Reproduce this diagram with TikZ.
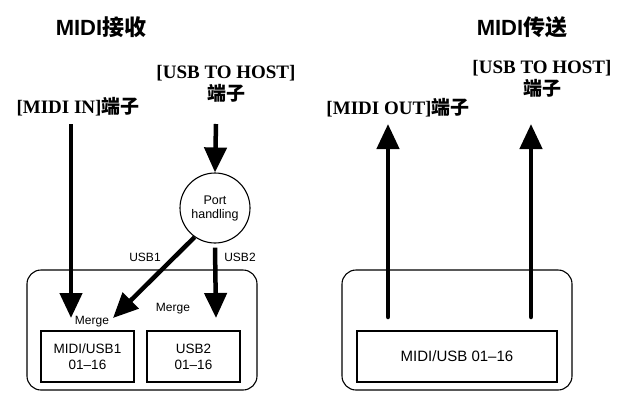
\documentclass[tikz,border=0pt]{standalone}
\usepackage{fontspec}
\setmainfont{Liberation Serif}
\setsansfont{Liberation Sans}
\newfontfamily\cjk{Noto Sans CJK SC}
\usetikzlibrary{arrows.meta}
\begin{document}
\begin{tikzpicture}[x=1pt,y=-1pt,
  outerbox/.style={draw, rounded corners=14pt, line width=1.1pt, minimum width=230pt, minimum height=120pt, inner sep=0pt},
  innerbox/.style={draw, line width=1.1pt, minimum height=51pt, inner sep=0pt, align=center, font=\sffamily\fontsize{13.5}{16}\selectfont},
  bigarrow/.style={line width=4.5pt, -{Triangle[length=25pt,width=22pt]}},
  title/.style={font=\sffamily\bfseries\fontsize{22}{24}\selectfont},
  port/.style={font=\bfseries\fontsize{19}{22}\selectfont, align=center, inner sep=0pt},
  small/.style={font=\sffamily\fontsize{12}{14}\selectfont, inner sep=0pt}]
\useasboundingbox (0,0) rectangle (621,394);
\fill[white] (0,0) rectangle (621,394);
% titles
\node[title] (t1) at (101,27) {MIDI{\cjk 接收}};
\node[title] (t2) at (522,27) {MIDI{\cjk 传送}};
% left side
\node[port] (usbh) at (226,84) {[USB TO HOST]\\{\cjk 端子}};
\node[port] (midiin) at (78,107) {[MIDI IN]{\cjk 端子}};
\node[outerbox] (lbox) at (142,330) {};
\node[innerbox, minimum width=93pt] (b1) at (87.5,356.5) {MIDI/USB1\\01--16};
\node[innerbox, minimum width=93pt] (b2) at (193.5,356.5) {USB2\\01--16};
\node[draw, circle, line width=1.1pt, minimum size=70pt, inner sep=0pt, align=center, font=\sffamily\fontsize{12.5}{14}\selectfont] (ph) at (215,208) {Port\\handling};
\coordinate (mis) at (71,124);
\coordinate (mie) at (71,318);
\coordinate (uhs) at (216,124);
\coordinate (u1e) at (113,318);
\coordinate (u2e) at (216,318);
\draw[bigarrow] (mis) -- (mie);
\draw[bigarrow] (uhs) -- (ph.north);
\draw[bigarrow] (ph.235) -- (u1e);
\draw[bigarrow] ([yshift=-4pt]ph.south) -- (u2e);
\node[small] (l1) at (145,257) {USB1};
\node[small] (l2) at (240,257) {USB2};
\node[small] (m1) at (92,322) {Merge};
\node[small] (m2) at (173,309) {Merge};
% right side
\node[port] (midiout) at (398,108) {[MIDI OUT]{\cjk 端子}};
\node[port] (usbh2) at (542,79) {[USB TO HOST]\\{\cjk 端子}};
\node[outerbox] (rbox) at (457,330) {};
\node[innerbox, minimum width=200pt, font=\sffamily\fontsize{15}{17}\selectfont] (b3) at (457,356.5) {MIDI/USB 01--16};
\coordinate (o1s) at (388,317);
\coordinate (o1e) at (388,124);
\coordinate (o2s) at (531,317);
\coordinate (o2e) at (531,124);
\draw[bigarrow, line cap=round] (o1s) -- (o1e);
\draw[bigarrow, line cap=round] (o2s) -- (o2e);
\end{tikzpicture}
\end{document}
